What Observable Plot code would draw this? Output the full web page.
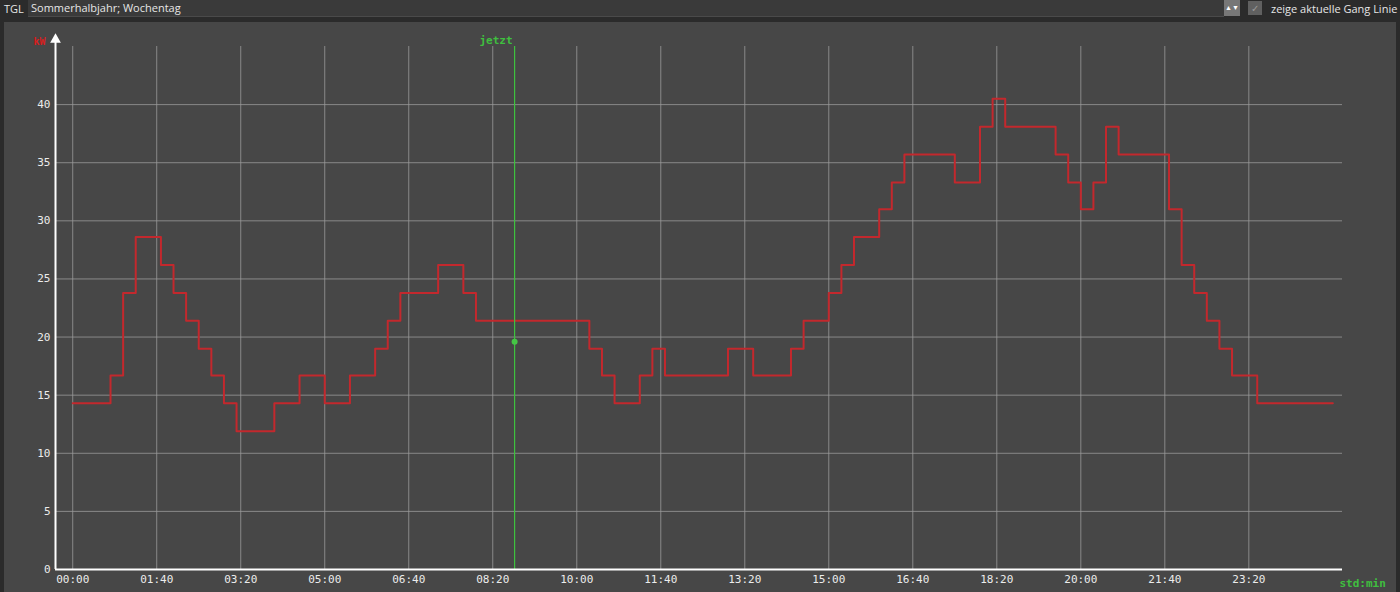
<!DOCTYPE html>
<html>
<head>
<meta charset="utf-8">
<script src="https://cdn.jsdelivr.net/npm/d3@7"></script>
<script src="https://cdn.jsdelivr.net/npm/@observablehq/plot@0.6"></script>
<style>
  html, body { margin: 0; padding: 0; background: #2b2b2b; width: 1400px; height: 592px; overflow: hidden; }
  #bar { position: absolute; left: 0; top: 0; width: 1400px; height: 18px; font-family: "Open Sans", "Noto Sans", sans-serif; font-size: 11px; color: #e6e6e6; }
  #tgl { position: absolute; left: 4px; top: 1px; }
  #sel { position: absolute; left: 28px; top: 0px; width: 1196px; height: 16px; background: #3a3a3a; border-bottom: 1px solid #4a4a4a; }
  #sel span { position: absolute; left: 3px; top: 0px; }
  #spin { position: absolute; left: 1224px; top: 0px; width: 16px; height: 16px; background: #777; color: #fff; font-size: 7px; line-height: 16px; text-align: center; }
  #chk { position: absolute; left: 1248px; top: 1px; width: 14px; height: 14px; background: #606060; color: #999; font-size: 10px; line-height: 14px; text-align: center; }
  #lbl { position: absolute; left: 1271px; top: 1px; }
  #panel { position: absolute; left: 4px; top: 22px; width: 1392px; height: 570px; background: #474747; }
</style>
</head>
<body>
<div id="bar">
  <span id="tgl">TGL</span>
  <div id="sel"><span>Sommerhalbjahr; Wochentag</span></div>
  <div id="spin">▲▼</div>
  <div id="chk">✓</div>
  <span id="lbl">zeige aktuelle Gang Linie</span>
</div>
<div id="panel"></div>
<script>
// Values per 15-minute slot (kW)
const slotValues = [
  14.3, 14.3, 14.3, 16.7, 23.8, 28.6, 28.6, 26.2, 23.8, 21.4,
  19.0, 16.7, 14.3, 11.9, 11.9, 11.9, 14.3, 14.3, 16.7, 16.7,
  14.3, 14.3, 16.7, 16.7, 19.0, 21.4, 23.8, 23.8, 23.8, 26.2,
  26.2, 23.8, 21.4, 21.4, 21.4, 21.4, 21.4, 21.4, 21.4, 21.4,
  21.4, 19.0, 16.7, 14.3, 14.3, 16.7, 19.0, 16.7, 16.7, 16.7,
  16.7, 16.7, 19.0, 19.0, 16.7, 16.7, 16.7, 19.0, 21.4, 21.4,
  23.8, 26.2, 28.6, 28.6, 31.0, 33.3, 35.7, 35.7, 35.7, 35.7,
  33.3, 33.3, 38.1, 40.5, 38.1, 38.1, 38.1, 38.1, 35.7, 33.3,
  31.0, 33.3, 38.1, 35.7, 35.7, 35.7, 35.7, 31.0, 26.2, 23.8,
  21.4, 19.0, 16.7, 16.7, 14.3, 14.3, 14.3, 14.3, 14.3, 14.3
];
const slotLength = 15; // minutes per slot
const xTickMinutes = [0, 100, 200, 300, 400, 500, 600, 700, 800, 900, 1000, 1100, 1200, 1300, 1400];
const xTickLabels = ["00:00","01:40","03:20","05:00","06:40","08:20","10:00","11:40","13:20","15:00","16:40","18:20","20:00","21:40","23:20"];
const yTicks = [0, 5, 10, 15, 20, 25, 30, 35, 40];
const nowMinute = 526;     // "jetzt"
const nowValue = 19.6;
const yUnit = "kW";
const xUnit = "std:min";
const xDomain = [-20.5, 1511.5];
const yDomain = [0, 45];

const series = slotValues.map((v, i) => ({t: i * slotLength, v}));
series.push({t: slotValues.length * slotLength, v: slotValues[slotValues.length - 1]});
const labelOf = new Map(xTickMinutes.map((m, i) => [m, xTickLabels[i]]));

const mono = "'DejaVu Sans Mono', monospace";
const chart = Plot.plot({
  width: 1392,
  height: 570,
  marginLeft: 51,
  marginRight: 54,
  marginTop: 24,
  marginBottom: 23,
  style: {background: "transparent", color: "#e8e8e8", fontFamily: mono, fontSize: "11px", overflow: "visible"},
  x: {domain: xDomain, label: null},
  y: {domain: yDomain, label: null},
  marks: [
    Plot.gridX(xTickMinutes, {stroke: "#9a9a9a", strokeOpacity: 0.8, strokeWidth: 1}),
    Plot.gridY(yTicks.filter(d => d > 0), {stroke: "#9a9a9a", strokeOpacity: 0.8, strokeWidth: 1}),
    Plot.axisX(xTickMinutes, {anchor: "bottom", tickSize: 0, tickPadding: 6, tickFormat: d => labelOf.get(d), fill: "#ececec", fontFamily: mono, fontSize: 11, label: null}),
    Plot.axisY(yTicks, {anchor: "left", tickSize: 0, tickPadding: 5, fill: "#ececec", fontFamily: mono, fontSize: 11, label: null}),
    Plot.line(series, {x: "t", y: "v", curve: "step-after", stroke: "#c3282d", strokeWidth: 2}),
    Plot.ruleX([nowMinute], {y1: yDomain[0], y2: yDomain[1], stroke: "#3ec23e", strokeWidth: 1.2}),
    Plot.dot([{t: nowMinute, v: nowValue}], {x: "t", y: "v", r: 3, fill: "#45c545", stroke: null}),
    Plot.text(["jetzt"], {x: nowMinute, y: yDomain[1], dy: -6, dx: -2, textAnchor: "end", fill: "#3fbf3f", fontFamily: mono, fontSize: 11, fontWeight: "bold"}),
    Plot.ruleY([0], {stroke: "#ffffff", strokeWidth: 2}),
    Plot.ruleX([xDomain[0]], {y1: 0, y2: 45.4, stroke: "#ffffff", strokeWidth: 2}),
    Plot.dot([{}], {x: () => xDomain[0], y: () => 45.6, symbol: "triangle", r: 4, fill: "#ffffff", stroke: null}),
    Plot.text([yUnit], {x: xDomain[0], y: yDomain[1], dy: -5, dx: -10, textAnchor: "end", fill: "#d81e1e", fontFamily: mono, fontSize: 10, fontWeight: "bold"}),
    Plot.text([xUnit], {x: xDomain[1], y: 0, dy: 14, dx: -3, textAnchor: "start", fill: "#3fbf3f", fontFamily: mono, fontSize: 11, fontWeight: "bold"})
  ]
});
document.getElementById("panel").appendChild(chart);
</script>
</body>
</html>
